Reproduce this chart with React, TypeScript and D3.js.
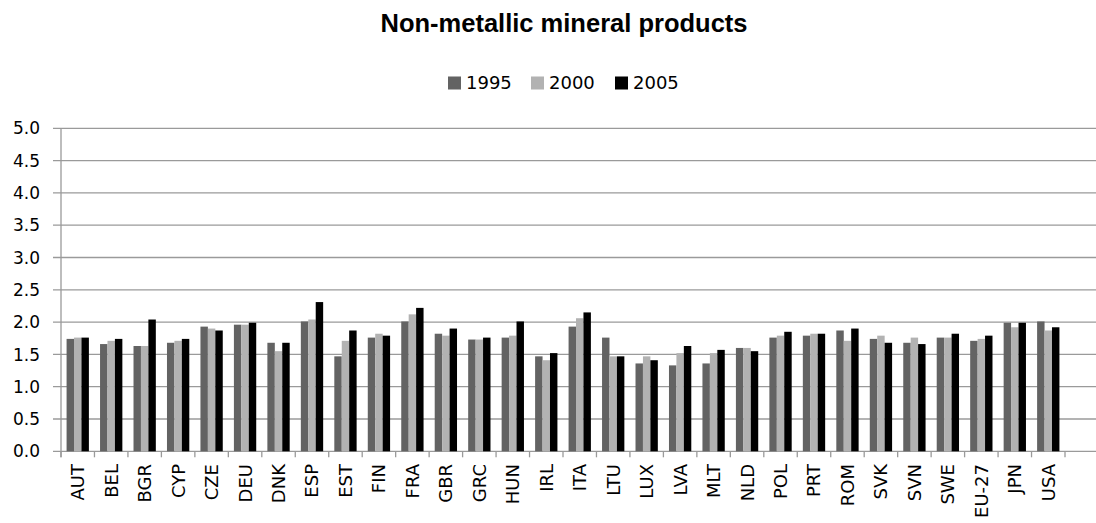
import React from "react";
import * as d3 from "d3";

const categories = ["AUT","BEL","BGR","CYP","CZE","DEU","DNK","ESP","EST","FIN","FRA","GBR","GRC","HUN","IRL","ITA","LTU","LUX","LVA","MLT","NLD","POL","PRT","ROM","SVK","SVN","SWE","EU-27","JPN","USA"];
const years = ["1995","2000","2005"];
const v1995 = [1.74,1.66,1.63,1.68,1.93,1.96,1.68,2.01,1.47,1.76,2.01,1.82,1.73,1.76,1.47,1.93,1.76,1.36,1.33,1.36,1.60,1.76,1.79,1.87,1.74,1.68,1.76,1.71,1.99,2.01];
const v2000 = [1.76,1.71,1.63,1.71,1.90,1.96,1.55,2.04,1.71,1.82,2.12,1.79,1.73,1.79,1.41,2.06,1.47,1.47,1.52,1.52,1.60,1.79,1.82,1.71,1.79,1.76,1.76,1.74,1.92,1.87];
const v2005 = [1.76,1.74,2.04,1.74,1.87,1.99,1.68,2.31,1.87,1.79,2.22,1.90,1.76,2.01,1.52,2.15,1.47,1.41,1.63,1.57,1.55,1.85,1.82,1.90,1.68,1.66,1.82,1.79,1.99,1.92];
const yTicks = [0,0.5,1,1.5,2,2.5,3,3.5,4,4.5,5];
const colors = ["#636363","#b2b2b2","#000000"];
const series = [v1995, v2000, v2005];

export default function App() {
  const W = 1096, H = 523;
  const x0 = 61, x1e = 1065, yTop = 128.3, yBot = 451.3, gridEnd = 1096;
  const x = d3.scaleBand().domain(categories).range([x0, x1e]).padding(0);
  const xi = d3.scaleBand().domain(years).range([0, x.bandwidth()]).paddingInner(0).paddingOuter(0.75);
  const y = d3.scaleLinear().domain([0, 5]).range([yBot, yTop]);
  const tickFont = "'DejaVu Sans', Verdana, sans-serif";
  const boundaries = categories.map((c) => x(c) as number).concat([x1e]);
  const legendX = [448, 531, 615];
  return (
    <div style={{ position: "absolute", left: 0, top: 0 }}>
      <svg width={W} height={H} style={{ display: "block", background: "#fff" }}>
        <text x={564} y={32} textAnchor="middle" fontFamily="'Liberation Sans', Arial, sans-serif" fontWeight="bold" fontSize={25.5} fill="#000">
          Non-metallic mineral products
        </text>
        {years.map((yr, i) => (
          <g key={yr}>
            <rect x={legendX[i]} y={76.5} width={13} height={13} fill={colors[i]} />
            <text x={legendX[i] + 18} y={89} fontFamily={tickFont} fontSize={18} fill="#000">{yr}</text>
          </g>
        ))}
        {yTicks.map((t) => (
          <g key={t}>
            <line x1={53} x2={gridEnd} y1={y(t)} y2={y(t)} stroke="#9a9a9a" strokeWidth={1.3} />
            <text x={40} y={y(t)} dy="0.36em" textAnchor="end" fontFamily={tickFont} fontSize={17} fill="#000">{t.toFixed(1)}</text>
          </g>
        ))}
        <line x1={x0} x2={x0} y1={yTop} y2={yBot + 6} stroke="#9a9a9a" strokeWidth={1.3} />
        {boundaries.map((b, i) => (
          <line key={i} x1={b} x2={b} y1={yBot} y2={yBot + 6} stroke="#9a9a9a" strokeWidth={1.3} />
        ))}
        {categories.map((c, ci) => (
          <g key={c} transform={`translate(${x(c)},0)`}>
            {series.map((s, si) => (
              <rect key={si} x={xi(years[si])} y={y(s[ci])} width={xi.bandwidth()} height={yBot - y(s[ci])} fill={colors[si]} />
            ))}
          </g>
        ))}
        {categories.map((c) => {
          const cx = (x(c) as number) + x.bandwidth() / 2;
          return (
            <text key={c} transform={`translate(${cx},${464}) rotate(-90)`} dy="0.36em" textAnchor="end" fontFamily={tickFont} fontSize={18} fill="#000">{c}</text>
          );
        })}
      </svg>
    </div>
  );
}
